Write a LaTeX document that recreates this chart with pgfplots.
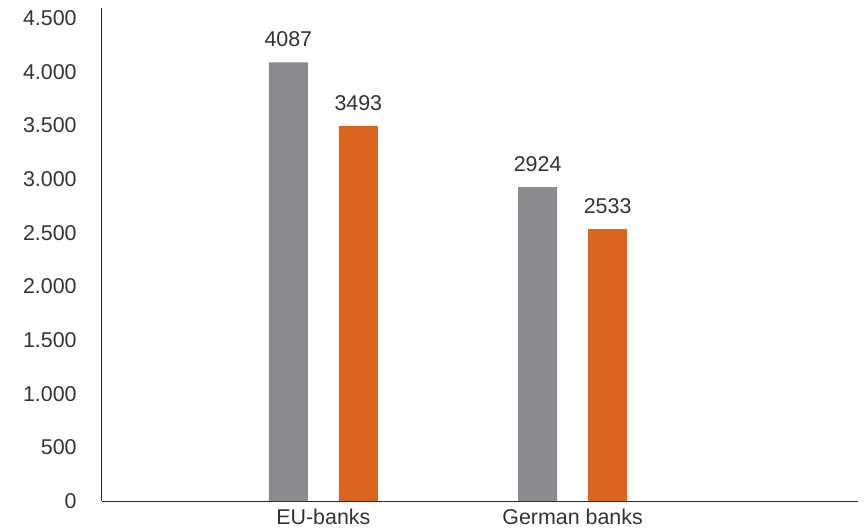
\documentclass[border=0pt]{standalone}
\usepackage{pgfplots}
\pgfplotsset{compat=1.18}
\usepackage{fontspec}
\setmainfont{Liberation Sans}
\definecolor{bargray}{HTML}{8A8B8E}
\definecolor{barorange}{HTML}{D9651E}
\definecolor{txt}{HTML}{333333}
\begin{document}
\fontsize{21.5}{25}\selectfont
\begin{tikzpicture}
\path[use as bounding box] (-102bp,-31bp) rectangle (763bp,501bp);
\begin{axis}[
  at={(0,0)}, anchor=south west,
  scale only axis, width=756bp, height=493bp,
  xmin=-0.888, xmax=2.145, ymin=0, ymax=4593,
  axis x line=bottom, axis y line=left,
  axis line style={-, black!85, line width=1bp},
  xtick={0,1}, xticklabels={EU-banks, German banks},
  ytick={0,500,...,4500},
  major tick length=0pt,
  tick label style={font=\fontsize{21.5}{25}\selectfont, text=txt},
  yticklabel style={xshift=-18bp},
  xticklabel style={yshift=-1bp},
  /pgf/number format/assume math mode=true,
  /pgf/number format/1000 sep={.},
  ybar, clip=false,
  bar width=39bp,
  point meta=explicit symbolic,
  nodes near coords,
  every node near coord/.append style={font=\fontsize{21.5}{25}\selectfont, text=txt, yshift=8bp},
]
\addplot[draw=none, fill=bargray, bar shift=-35bp] coordinates {(0,4087) [4087] (1,2924) [2924]};
\addplot[draw=none, fill=barorange, bar shift=35bp] coordinates {(0,3493) [3493] (1,2533) [2533]};
\end{axis}
\end{tikzpicture}
\end{document}
